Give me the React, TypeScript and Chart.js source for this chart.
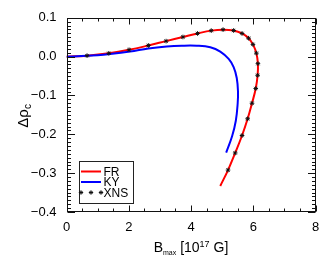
import React, { useEffect, useRef } from "react";
import { Chart, registerables } from "chart.js";

Chart.register(...registerables);

// ---- data ----
const FR_X = [0.0, 0.66, 1.36, 2.01, 2.63, 3.2, 3.74, 4.21, 4.65, 5.03, 5.37, 5.64, 5.85, 5.99, 6.1, 6.15, 6.14, 6.08, 5.96, 5.82, 5.64, 5.42, 5.19, 4.94];
const FR_Y = [0.0, 0.0025, 0.0086, 0.0176, 0.0287, 0.04, 0.0506, 0.0597, 0.067, 0.0695, 0.0673, 0.0597, 0.0475, 0.0315, 0.009, -0.018, -0.048, -0.082, -0.12, -0.16, -0.203, -0.248, -0.292, -0.333];

const KY_X = [0.0, 0.66, 1.4, 2.04, 2.63, 3.22, 3.7, 4.19, 4.62, 4.94, 5.21, 5.37, 5.47, 5.51, 5.5, 5.44, 5.32, 5.13];
const KY_Y = [0.0, 0.002, 0.007, 0.013, 0.021, 0.026, 0.028, 0.028, 0.024, 0.013, -0.006, -0.027, -0.055, -0.09, -0.12, -0.165, -0.205, -0.247];

const XNS_X = [0.66, 1.36, 2.01, 2.63, 3.2, 3.74, 4.21, 4.65, 5.03, 5.37, 5.64, 5.85, 5.99, 6.1, 6.15, 6.14, 6.08, 5.96, 5.82, 5.64, 5.42, 5.19];
const XNS_Y = [0.0025, 0.0086, 0.0176, 0.0287, 0.04, 0.0506, 0.0597, 0.067, 0.0695, 0.0673, 0.0597, 0.0475, 0.0315, 0.009, -0.018, -0.048, -0.082, -0.12, -0.16, -0.203, -0.248, -0.292];

const SERIES_NAMES = ["FR", "KY", "XNS"];
const X_MIN = 0, X_MAX = 8, X_STEP = 2, X_MINOR = 0.5;
const Y_MIN = -0.4, Y_MAX = 0.1, Y_STEP = 0.1, Y_MINOR = 0.01;

const FONT = '"Liberation Sans", Arial, Helvetica, sans-serif';
const RED = "rgb(255,0,0)";
const BLUE = "rgb(0,0,255)";

function pts(xs: number[], ys: number[]) {
  return xs.map((x, i) => ({ x, y: ys[i] }));
}

function drawStar(ctx: CanvasRenderingContext2D, x: number, y: number, r: number) {
  ctx.beginPath();
  ctx.moveTo(x - r, y); ctx.lineTo(x + r, y);
  ctx.moveTo(x, y - r); ctx.lineTo(x, y + r);
  const d = r * 0.7071;
  ctx.moveTo(x - d, y - d); ctx.lineTo(x + d, y + d);
  ctx.moveTo(x - d, y + d); ctx.lineTo(x + d, y - d);
  ctx.stroke();
}

function drawRich(ctx: CanvasRenderingContext2D, parts: { t: string; f: number; dy: number }[], cx: number, baseY: number) {
  let total = 0;
  const widths = parts.map((p) => {
    ctx.font = `${p.f}px ${FONT}`;
    const w = ctx.measureText(p.t).width;
    total += w;
    return w;
  });
  let x = cx - total / 2;
  ctx.textAlign = "left";
  ctx.textBaseline = "alphabetic";
  parts.forEach((p, i) => {
    ctx.font = `${p.f}px ${FONT}`;
    ctx.fillText(p.t, x, baseY + p.dy);
    x += widths[i];
  });
}

const framePlugin = {
  id: "idlFrame",
  afterDraw(chart: any) {
    const ctx: CanvasRenderingContext2D = chart.ctx;
    const xs = chart.scales.x, ys = chart.scales.y;
    const { left, right, top, bottom } = chart.chartArea;
    const L = Math.round(left) + 0.5, R = Math.round(right) - 0.5;
    const T = Math.round(top) + 0.5, B = Math.round(bottom) - 0.5;
    ctx.save();
    ctx.strokeStyle = "#111";
    ctx.lineWidth = 1;
    ctx.strokeRect(L, T, R - L, B - T);
    ctx.beginPath();
    const nx = Math.round((X_MAX - X_MIN) / X_MINOR);
    const perMajX = Math.round(X_STEP / X_MINOR);
    for (let i = 0; i <= nx; i++) {
      const v = X_MIN + i * X_MINOR;
      const px = Math.round(xs.getPixelForValue(v)) + 0.5;
      const len = i % perMajX === 0 ? 6 : 3;
      ctx.moveTo(px, B); ctx.lineTo(px, B - len);
      ctx.moveTo(px, T); ctx.lineTo(px, T + len);
    }
    const ny = Math.round((Y_MAX - Y_MIN) / Y_MINOR);
    const perMajY = Math.round(Y_STEP / Y_MINOR);
    for (let j = 0; j <= ny; j++) {
      const v = Y_MIN + j * Y_MINOR;
      const py = Math.round(ys.getPixelForValue(v)) + 0.5;
      const len = j % perMajY === 0 ? 7.5 : 3.5;
      ctx.moveTo(L, py); ctx.lineTo(L + len, py);
      ctx.moveTo(R, py); ctx.lineTo(R - len, py);
    }
    ctx.stroke();

    // Legend box
    const lx = 79.5, ly = 161.5, lw = 54, lh = 42;
    ctx.strokeStyle = "#222";
    ctx.strokeRect(lx, ly, lw, lh);
    const rows = [171.5, 182, 192.5];
    ctx.lineWidth = 2;
    ctx.strokeStyle = RED;
    ctx.beginPath(); ctx.moveTo(81, rows[0]); ctx.lineTo(101, rows[0]); ctx.stroke();
    ctx.strokeStyle = BLUE;
    ctx.beginPath(); ctx.moveTo(81, rows[1]); ctx.lineTo(101, rows[1]); ctx.stroke();
    ctx.lineWidth = 1;
    ctx.strokeStyle = "#111";
    [81, 91, 101].forEach((sx) => drawStar(ctx, sx, rows[2], 2.2));
    ctx.fillStyle = "#000";
    ctx.font = `12px ${FONT}`;
    ctx.textAlign = "left";
    ctx.textBaseline = "middle";
    SERIES_NAMES.forEach((n, i) => ctx.fillText(n, 103.5, rows[i] + 1));

    // X title
    ctx.fillStyle = "#000";
    drawRich(ctx, [
      { t: "B", f: 14, dy: 0 },
      { t: "max", f: 7, dy: 3.5 },
      { t: " [10", f: 14, dy: 0 },
      { t: "17", f: 9, dy: -5 },
      { t: " G]", f: 14, dy: 0 },
    ], (left + right) / 2, 251.5);

    // Y title (rotated)
    ctx.save();
    ctx.translate(27.5, (top + bottom) / 2 + 1);
    ctx.rotate(-Math.PI / 2);
    drawRich(ctx, [
      { t: "Δρ", f: 15, dy: 0 },
      { t: "c", f: 10, dy: 3.5 },
    ], 0, 0);
    ctx.restore();
    ctx.restore();
  },
};

export default function App() {
  const ref = useRef<HTMLCanvasElement | null>(null);
  useEffect(() => {
    document.body.style.margin = "0";
    const canvas = ref.current;
    if (!canvas) return;
    const chart = new Chart(canvas, {
      type: "scatter",
      data: {
        datasets: [
          {
            label: SERIES_NAMES[2],
            data: pts(XNS_X, XNS_Y),
            showLine: false,
            pointStyle: "star",
            pointRadius: 2.3,
            borderColor: "#111",
            backgroundColor: "#111",
            borderWidth: 1,
            order: 0,
          },
          {
            label: SERIES_NAMES[1],
            data: pts(KY_X, KY_Y),
            showLine: true,
            borderColor: BLUE,
            borderWidth: 2,
            pointRadius: 0,
            tension: 0.4,
            order: 1,
          },
          {
            label: SERIES_NAMES[0],
            data: pts(FR_X, FR_Y),
            showLine: true,
            borderColor: RED,
            borderWidth: 2,
            pointRadius: 0,
            tension: 0.4,
            order: 2,
          },
        ],
      },
      options: {
        animation: false,
        responsive: false,
        maintainAspectRatio: false,
        events: [],
        layout: { padding: { left: 0, top: 12.5, right: 16.5, bottom: 0 } },
        plugins: {
          legend: { display: false },
          tooltip: { enabled: false },
          title: { display: false },
        },
        scales: {
          x: {
            type: "linear",
            min: X_MIN,
            max: X_MAX,
            grid: { display: false, drawTicks: false },
            border: { display: false },
            ticks: {
              stepSize: X_STEP,
              maxRotation: 0,
              autoSkip: false,
              padding: 8,
              color: "#000",
              font: { family: FONT, size: 13 },
              callback: (v: any) => String(Number(v)),
            },
            afterFit: (s: any) => { s.height = 54; },
          },
          y: {
            type: "linear",
            min: Y_MIN,
            max: Y_MAX,
            grid: { display: false, drawTicks: false },
            border: { display: false },
            ticks: {
              stepSize: Y_STEP,
              autoSkip: false,
              padding: 10,
              color: "#000",
              font: { family: FONT, size: 13 },
              callback: (v: any) => {
                const s = Number(v).toFixed(1);
                return s === "-0.0" ? "0.0" : s.replace("-", "\u2212");
              },
            },
            afterFit: (s: any) => { s.width = 66.5; },
          },
        },
      },
      plugins: [framePlugin],
    } as any);
    return () => chart.destroy();
  }, []);
  return (
    <div style={{ position: "fixed", left: 0, top: 0, width: 332, height: 266 }}>
      <canvas ref={ref} width={332} height={266} style={{ width: 332, height: 266, display: "block" }} />
    </div>
  );
}
